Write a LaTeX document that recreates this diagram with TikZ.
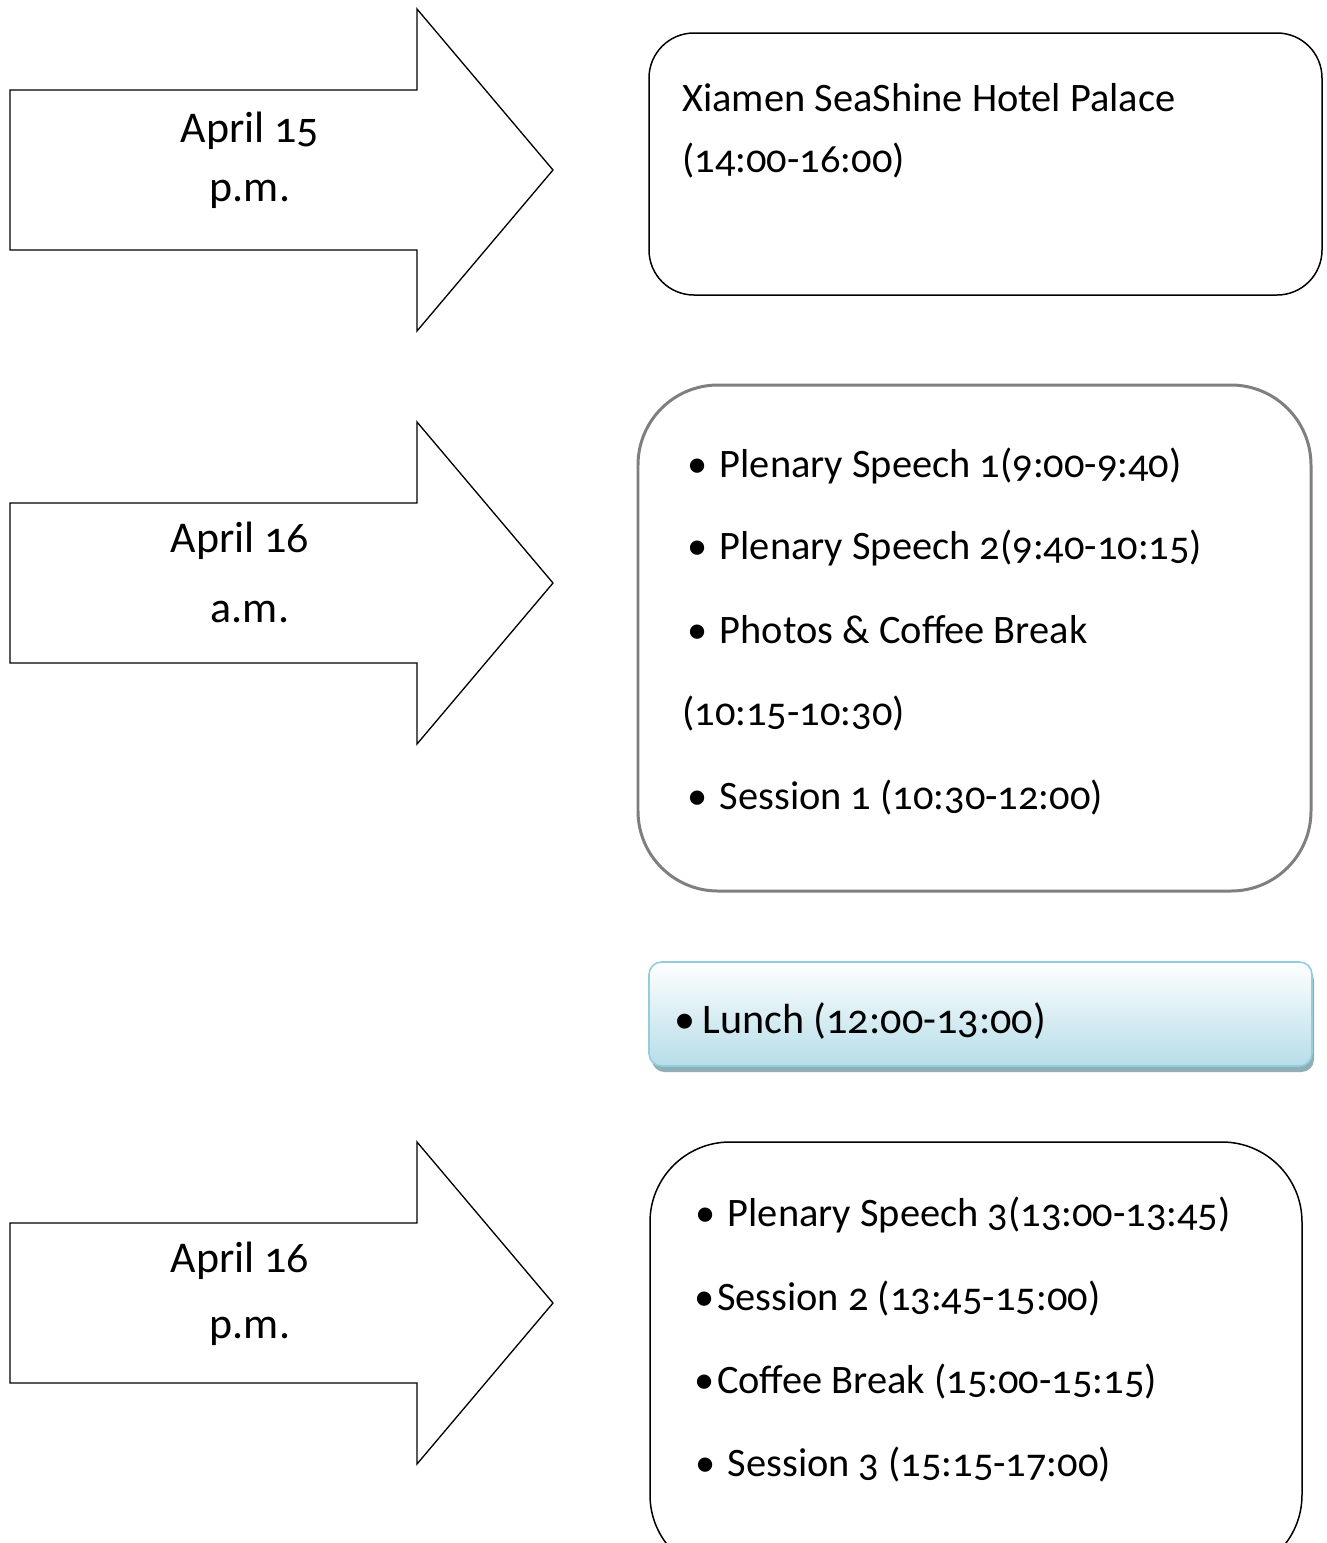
\documentclass[tikz,border=0pt]{standalone}
\usepackage{fontspec}
\setmainfont[Numbers=OldStyle]{Carlito}
\usetikzlibrary{positioning}

\definecolor{boxgray}{HTML}{7F7F7F}
\definecolor{lunchedge}{HTML}{93CDDD}
\definecolor{lunchtop}{HTML}{FFFFFF}
\definecolor{lunchbot}{HTML}{B6DDE8}
\definecolor{lunchshade}{HTML}{8FAEB6}

\tikzset{
  datearrow/.style={draw=black, line width=0.75pt, fill=white},
  daytext/.style={font=\fontsize{25}{30}\selectfont},
  itemtext/.style={font=\fontsize{23}{27}\selectfont, anchor=west, inner sep=0pt},
  plainbox/.style={draw=black, line width=0.85pt, rounded corners=0.9cm},
}

\begin{document}
\begin{tikzpicture}[x=0.02cm, y=-0.02cm]
  \clip (0,0) rectangle (1327,1543);
  \fill[white] (0,0) rectangle (1327,1543);

  % the three day arrows
  \foreach \cy/\nm in {170/one, 583/two, 1303/three} {
    \coordinate (\nm-a) at (10,\cy-80);
    \coordinate (\nm-b) at (417,\cy-80);
    \coordinate (\nm-c) at (417,\cy-161);
    \coordinate (\nm-d) at (553,\cy);
    \coordinate (\nm-e) at (417,\cy+161);
    \coordinate (\nm-f) at (417,\cy+80);
    \coordinate (\nm-g) at (10,\cy+80);
    \draw[datearrow] (\nm-a) -- (\nm-b) -- (\nm-c) -- (\nm-d) -- (\nm-e) -- (\nm-f) -- (\nm-g) -- cycle;
  }

  \node[daytext] (day1) at (250,131) {April 15};
  \node[daytext] (half1) at (250,194) {p.m.};
  \node[daytext] (day2) at (240,541) {April 16};
  \node[daytext] (half2) at (250,612) {a.m.};
  \node[daytext] (day3) at (240,1261) {April 16};
  \node[daytext] (half3) at (250,1331) {p.m.};

  % first box
  \draw[plainbox] (649,33) rectangle (1322,295);
  \node[itemtext] (hotel) at (682,98) {Xiamen SeaShine Hotel Palace};
  \node[itemtext] (hoteltime) at (682,161) {(14:00-16:00)};

  % morning box
  \draw[boxgray, line width=1.7pt, rounded corners=1.6cm] (638,385) rectangle (1311,891);
  \node[itemtext] (am1) at (687,466) {\textbullet\hspace{7pt}Plenary Speech 1(9:00-9:40)};
  \node[itemtext] (am2) at (687,548) {\textbullet\hspace{7pt}Plenary Speech 2(9:40-10:15)};
  \node[itemtext] (am3) at (687,630) {\textbullet\hspace{7pt}Photos \& Coffee Break};
  \node[itemtext] (am3t) at (682,714) {(10:15-10:30)};
  \node[itemtext] (am4) at (687,798) {\textbullet\hspace{7pt}Session 1 (10:30-12:00)};

  % lunch
  \fill[lunchshade, rounded corners=0.25cm] (652,968) rectangle (1314,1072);
  \shade[top color=lunchtop, bottom color=lunchbot, rounded corners=0.25cm]
    (649,962) rectangle (1312,1066);
  \draw[lunchedge, line width=0.9pt, rounded corners=0.25cm] (649,962) rectangle (1312,1066);
  \node[itemtext, font=\fontsize{24}{28}\selectfont] (lunch) at (674,1021) {\textbullet\hspace{4pt}Lunch (12:00-13:00)};

  % afternoon box
  \draw[black, line width=0.85pt, rounded corners=1.6cm] (650,1142) rectangle (1302,1575);
  \node[itemtext] (pm1) at (695,1215) {\textbullet\hspace{7pt}Plenary Speech 3(13:00-13:45)};
  \node[itemtext] (pm2) at (694,1299) {\textbullet\hspace{1.5pt}Session 2 (13:45-15:00)};
  \node[itemtext] (pm3) at (694,1382) {\textbullet\hspace{1.5pt}Coffee Break (15:00-15:15)};
  \node[itemtext] (pm4) at (695,1465) {\textbullet\hspace{7pt}Session 3 (15:15-17:00)};
\end{tikzpicture}
\end{document}
